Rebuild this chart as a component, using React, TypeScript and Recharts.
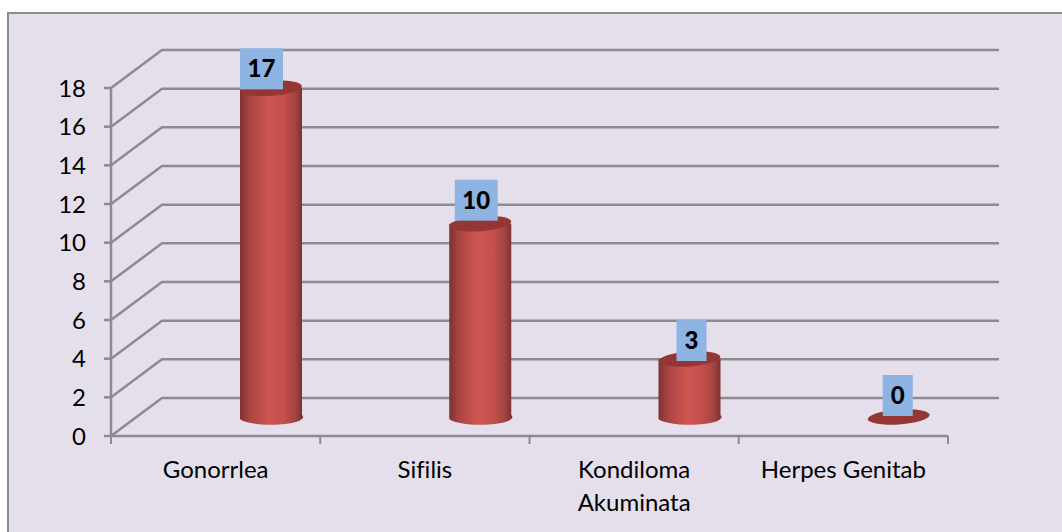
import { BarChart, Bar, XAxis, YAxis, CartesianGrid, LabelList } from 'recharts'

const categories = ['Gonorrlea', 'Sifilis', 'Kondiloma Akuminata', 'Herpes Genitab']
const values = [17, 10, 3, 0]
const yTicks = [0, 2, 4, 6, 8, 10, 12, 14, 16, 18]

const chartData = categories.map((name, i) => ({ name, value: values[i] }))

// nudges of the value boxes relative to the bar, the original has them uneven
const labelNudgeX = [-9.5, -4, 2, -1]
const labelNudgeY = [1, -3, 2, -1]

const FONT = 'Lato, "Open Sans", sans-serif'
const LINE = '#8c8c8c'
const BG = '#E5DFEC'

// fake 3d depth of the chart floor
const DEPTH_X = 51
const DEPTH_Y = 38
const BAND = 209.25
// bars stand in the middle of the floor, shifted from the label centre
const BAR_DX = 55
const BAR_DY = -19

function GridLine(props: any) {
  const { x1, x2, y1 } = props
  const backY = y1 - DEPTH_Y
  return (
    <path
      d={`M${x1},${y1} L${x1 + DEPTH_X},${backY} L${x2 + DEPTH_X},${backY}`}
      fill="none"
      stroke={LINE}
      strokeWidth={2.5}
    />
  )
}

function Cylinder(props: any) {
  const { x, y, width, height } = props
  const cx = x + width / 2 + BAR_DX
  const top = y + BAR_DY
  const bottom = y + height + BAR_DY
  const rx = width / 2
  const ry = 7.5
  const left = cx - rx
  const right = cx + rx
  return (
    <g>
      {height > 0 && (
        <path
          d={`M${left},${top} L${left},${bottom + 2} A${rx},${ry} 0 0 0 ${right},${bottom - 2} L${right},${top} Z`}
          fill="url(#cyl)"
        />
      )}
      <ellipse
        cx={cx}
        cy={top}
        rx={rx}
        ry={ry}
        fill="#943634"
        transform={`rotate(-4 ${cx} ${top})`}
      />
    </g>
  )
}

function ValueBox(props: any) {
  const { x, y, width, value, index } = props
  const w = String(value).length > 1 ? 43 : 30
  const cx = x + width / 2 + BAR_DX + labelNudgeX[index]
  const bottom = y + BAR_DY + labelNudgeY[index]
  return (
    <g>
      <rect x={cx - w / 2} y={bottom - 41} width={w} height={41} fill="#8DB4E2" />
      <text
        x={cx}
        y={bottom - 12}
        textAnchor="middle"
        fontFamily={FONT}
        fontWeight={900}
        fontSize={24}
        fill="#000"
      >
        {value}
      </text>
    </g>
  )
}

function CategoryTick(props: any) {
  const { x, y, payload, index } = props
  const words = String(payload.value)
  // only the long label wraps in the original
  const lines = words === 'Kondiloma Akuminata' ? words.split(' ') : [words]
  const left = x - BAND / 2
  const right = x + BAND / 2
  return (
    <g>
      <line x1={left} x2={left} y1={y - 8} y2={y} stroke={LINE} strokeWidth={2} />
      {index === categories.length - 1 && (
        <line x1={right} x2={right} y1={y - 8} y2={y} stroke={LINE} strokeWidth={2} />
      )}
      {lines.map((line, i) => (
        <text
          key={line}
          x={x}
          y={y + 34 + i * 33}
          textAnchor="middle"
          fontFamily={FONT}
          fontSize={24}
          fill="#000"
          style={{ fontFeatureSettings: '"liga" 0' }}
        >
          {line}
        </text>
      ))}
    </g>
  )
}

export default function App() {
  return (
    <div style={{ position: 'absolute', left: 0, top: 0, width: 1062, height: 532, overflow: 'hidden', background: '#fff' }}>
      <div
        style={{
          position: 'absolute',
          left: 7,
          top: 12,
          width: 1062,
          height: 532,
          boxSizing: 'border-box',
          background: BG,
          border: `2px solid ${LINE}`,
        }}
      />
      <div style={{ position: 'absolute', left: 0, top: 0 }}>
        <BarChart
          width={1062}
          height={532}
          data={chartData}
          margin={{ top: 88, right: 114, bottom: 0, left: 0 }}
          barSize={62}
        >
          <defs>
            <linearGradient id="cyl" x1="0" x2="1" y1="0" y2="0">
              <stop offset="0" stopColor="#7d3230" />
              <stop offset="0.15" stopColor="#a84442" />
              <stop offset="0.45" stopColor="#cf5551" />
              <stop offset="0.7" stopColor="#c44f4c" />
              <stop offset="0.88" stopColor="#a34341" />
              <stop offset="1" stopColor="#76302e" />
            </linearGradient>
          </defs>
          <CartesianGrid vertical={false} horizontal={GridLine as any} />
          <YAxis
            domain={[0, 18]}
            ticks={yTicks}
            interval={0}
            width={111}
            tickSize={7}
            tickMargin={18}
            axisLine={{ stroke: LINE, strokeWidth: 2.5 }}
            tickLine={{ stroke: LINE, strokeWidth: 2.5 }}
            tick={{ fontFamily: FONT, fontSize: 24, fill: '#000' }}
          />
          <XAxis
            dataKey="name"
            interval={0}
            height={96}
            tickLine={false}
            axisLine={{ stroke: LINE, strokeWidth: 2.5 }}
            tick={CategoryTick as any}
          />
          <Bar dataKey="value" isAnimationActive={false} shape={Cylinder as any}>
            <LabelList dataKey="value" content={ValueBox as any} />
          </Bar>
        </BarChart>
      </div>
    </div>
  )
}
